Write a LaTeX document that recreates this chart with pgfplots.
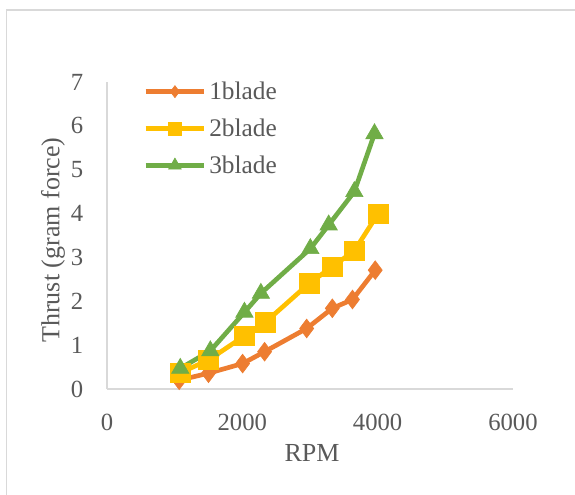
\documentclass[border=0pt]{standalone}
\usepackage{pgfplots}
\pgfplotsset{compat=1.18}
\usepackage{fontspec}
\setmainfont{Liberation Serif}
\definecolor{cOne}{HTML}{ED7D31}
\definecolor{cTwo}{HTML}{FFC000}
\definecolor{cThree}{HTML}{70AD47}
\definecolor{txtgray}{HTML}{595959}
\definecolor{axgray}{HTML}{D9D9D9}
\definecolor{framegray}{HTML}{D9D9D9}
\begin{document}
\begin{tikzpicture}
\useasboundingbox (0,0) rectangle (431.25pt,371.25pt);
\draw[color=framegray, line width=0.9pt] (4.8pt,-20pt) rectangle (460pt,363.75pt);
\begin{axis}[
  at={(80.25pt,79.5pt)}, anchor=south west,
  width=304.5pt, height=230.25pt, scale only axis,
  xmin=0, xmax=6000, ymin=0, ymax=7,
  axis x line=bottom, axis y line=left,
  axis line style={-, color=axgray, line width=0.9pt},
  xtick={0,2000,4000,6000}, ytick={0,1,...,7},
  major tick length=0pt,
  scaled x ticks=false,
  /pgf/number format/set thousands separator={},
  /pgf/number format/assume math mode=true,
  tick label style={font=\fontsize{18.5}{21}\selectfont, text=txtgray},
  xticklabel style={anchor=center, yshift=-24.75pt},
  yticklabel style={anchor=center, xshift=-22.5pt},
  xlabel={RPM}, ylabel={Thrust (gram force)},
  label style={font=\fontsize{19.5}{23}\selectfont, text=txtgray},
  xlabel style={at={(axis description cs:0.505,-0.2085)}, anchor=center},
  ylabel style={at={(axis description cs:-0.133,0.485)}, anchor=center},
  clip=false,
  legend style={at={(axis description cs:0.0887,1.01)}, anchor=north west,
    draw=none, fill=none, font=\fontsize{19}{22}\selectfont, text=txtgray,
    inner sep=0pt, row sep=9pt, nodes={inner sep=2pt}},
  legend cell align=left,
  legend image code/.code={\draw[mark repeat=2,mark phase=2] plot coordinates {(0pt,0pt) (22pt,0pt) (44pt,0pt)};},
]
\addplot[color=cOne, line width=3.5pt, mark=diamond*, mark size=7pt, mark options={solid, fill=cOne, line width=0.5pt},
  legend image post style={mark size=4.5pt}]
  coordinates {(1067,0.20) (1500,0.36) (2004,0.58) (2329,0.85) (2951,1.38) (3330,1.84) (3628,2.04) (3964,2.71)};
\addlegendentry{1blade}
\addplot[color=cTwo, line width=3.5pt, mark=square*, mark size=7.3pt, mark options={solid, fill=cTwo, line width=0.5pt},
  legend image post style={mark size=5pt}]
  coordinates {(1083,0.37) (1500,0.66) (2031,1.21) (2339,1.52) (2989,2.41) (3330,2.79) (3655,3.15) (4007,4.00)};
\addlegendentry{2blade}
\addplot[color=cThree, line width=3.5pt, mark=triangle*, mark size=7.5pt, mark options={solid, fill=cThree, line width=0.5pt},
  legend image post style={mark size=5.5pt}]
  coordinates {(1083,0.47) (1527,0.87) (2031,1.75) (2274,2.18) (3005,3.20) (3276,3.74) (3655,4.50) (3953,5.82)};
\addlegendentry{3blade}
\end{axis}
\end{tikzpicture}
\end{document}
